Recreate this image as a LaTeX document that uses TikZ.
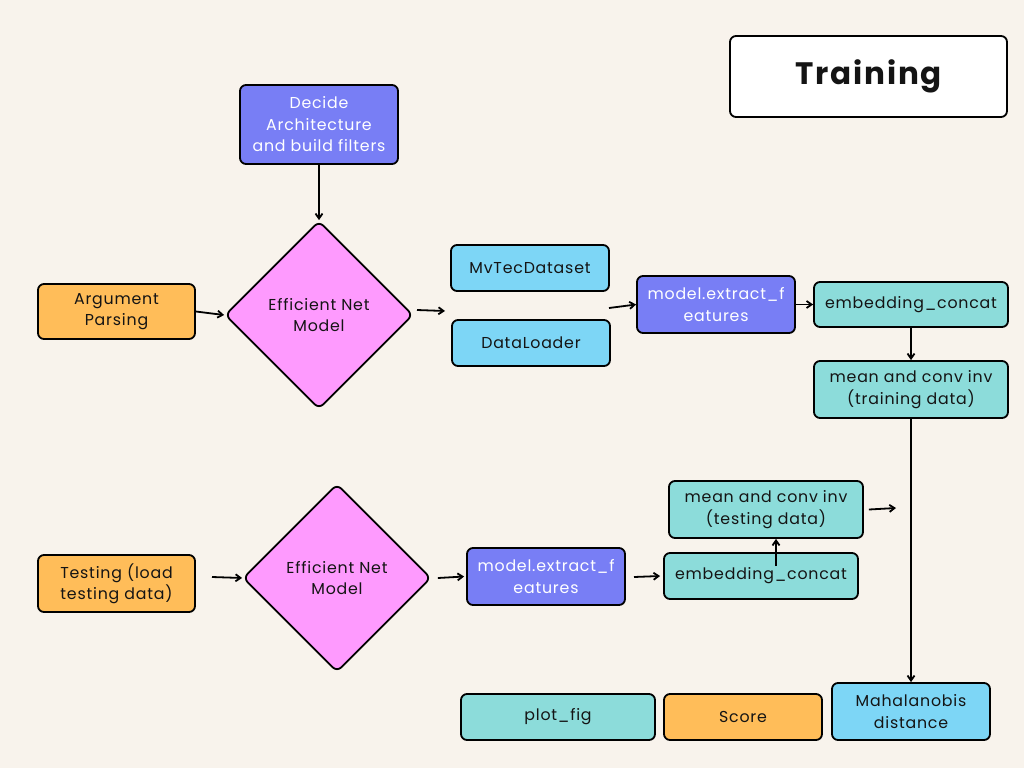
\documentclass[tikz,border=0pt]{standalone}
\usepackage{fontspec}
\setmainfont{Poppins}[LetterSpace=5]
\newfontfamily\titlefont{Poppins}[LetterSpace=6]
\usetikzlibrary{shapes.geometric,arrows.meta}
\definecolor{bgc}{HTML}{F8F3EC}
\definecolor{orng}{HTML}{FFBD59}
\definecolor{lblue}{HTML}{7DD6F6}
\definecolor{teal}{HTML}{8CDCDA}
\definecolor{viol}{HTML}{787EF5}
\definecolor{pnk}{HTML}{FE9AFE}
\tikzset{
  x=1pt,y=-1pt,
  box/.style={draw=black,line width=1.8pt,rounded corners=6pt,inner sep=0pt,align=center,font=\fontsize{15.8}{21.5}\selectfont,text=black!92},
  dia/.style={diamond,draw=black,line width=1.8pt,rounded corners=6pt,fill=pnk,aspect=1,inner sep=0pt,minimum width=188pt,minimum height=188pt,align=center,font=\fontsize{15.8}{21.5}\selectfont,text=black!92},
  arr/.style={-{Straight Barb[length=5pt,width=7pt]},line width=1.8pt},
}
\newcommand{\bx}[7]{% name, x1,y1,x2,y2, style, text
  \node[box,#6,minimum width=#4-#2,minimum height=#5-#3] (#1) at ({(#2+#4)/2},{(#3+#5)/2}) {#7};}
\begin{document}
\begin{tikzpicture}
\useasboundingbox[fill=bgc] (0,0) rectangle (1024,768);
\bx{train}{730}{36}{1007}{117}{fill=white,font=\titlefont\bfseries\fontsize{31}{34}\selectfont}{Training}
\bx{decide}{240}{85}{398}{164}{fill=viol,text=white}{Decide\\Architecture\\and build filters}
\node[dia] (dia1) at (319,315) {Efficient Net\\Model};
\bx{args}{38}{284}{195}{339}{fill=orng}{Argument\\Parsing}
\bx{mvtec}{451}{245}{609}{291}{fill=lblue}{MvTecDataset}
\bx{loader}{452}{320}{610}{366}{fill=lblue}{DataLoader}
\bx{model1}{637}{276}{795}{333}{fill=viol,text=white}{model.extract\_f\\eatures}
\bx{emb1}{814}{282}{1008}{327}{fill=teal}{embedding\_concat}
\bx{mean1}{814}{361}{1008}{418}{fill=teal}{mean and conv inv\\(training data)}
\bx{test}{38}{555}{195}{612}{fill=orng}{Testing (load\\testing data)}
\node[dia] (dia2) at (337,578) {Efficient Net\\Model};
\bx{model2}{467}{548}{625}{605}{fill=viol,text=white}{model.extract\_f\\eatures}
\bx{emb2}{664}{553}{858}{599}{fill=teal}{embedding\_concat}
\bx{mean2}{669}{481}{863}{538}{fill=teal}{mean and conv inv\\(testing data)}
\bx{plot}{461}{694}{655}{740}{fill=teal}{plot\_fig}
\bx{score}{664}{694}{822}{740}{fill=orng}{Score}
\bx{maha}{832}{683}{990}{740}{fill=lblue}{Mahalanobis\\distance}
% free ends
\coordinate (d1out) at (445,311);
\coordinate (d1st) at (417,310);
\coordinate (m1in) at (609,308);
\coordinate (tst) at (212,577);
\coordinate (m2st) at (634,577);
\coordinate (e2st) at (776,566);
\coordinate (mo2) at (896,508);
% connectors
\draw[arr] (decide.south) -- (dia1.north);
\draw[arr] (args.east) -- (dia1.west);
\draw[arr] (d1st) -- (d1out);
\draw[arr] (m1in) -- (model1.west);
\draw[arr] (model1.east) -- (emb1.west);
\draw[arr] (emb1.south) -- (mean1.north);
\draw[arr] (mean1.south) -- (maha.north -| mean1.south);
\draw[arr] (tst) -- (dia2.west);
\draw[arr] ([xshift=6pt]dia2.east) -- ([xshift=-2pt]model2.west);
\draw[arr] (m2st) -- ([xshift=-3pt]emb2.west);
\draw[arr] (e2st) -- (mean2.south -| e2st);
\draw[arr] ([xshift=5pt]mean2.east) -- (mo2);
\end{tikzpicture}
\end{document}
